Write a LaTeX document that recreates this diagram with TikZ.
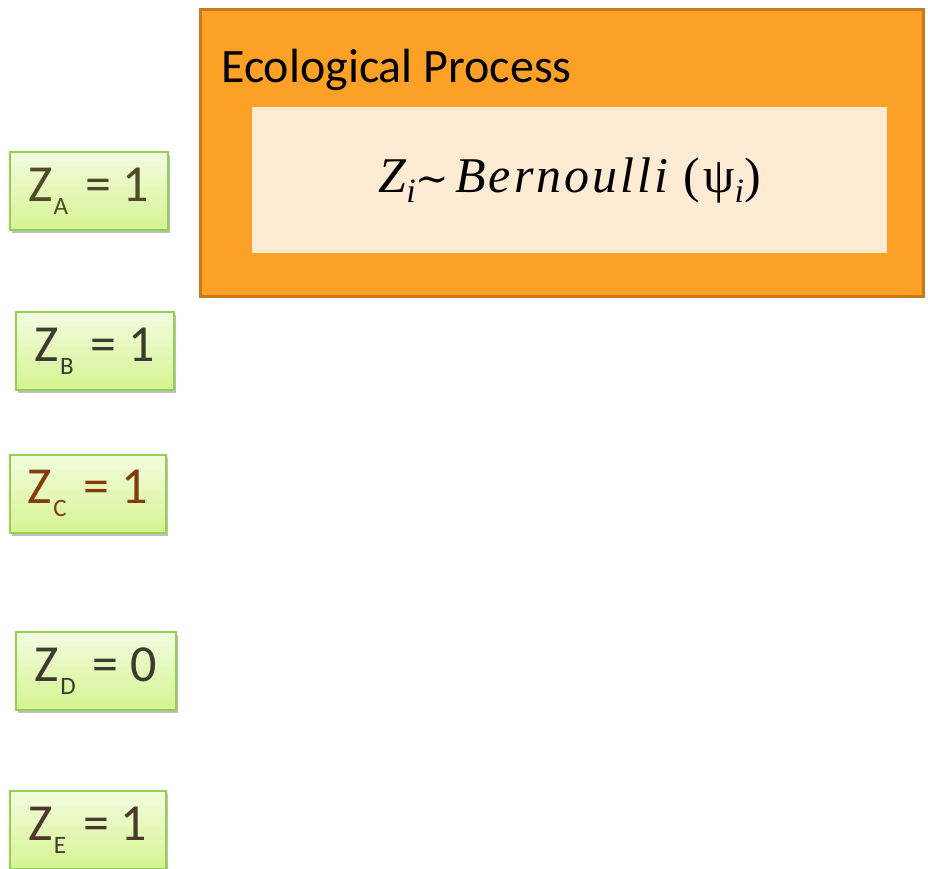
\documentclass[tikz,border=0pt]{standalone}
\usepackage{fontspec}
\setmainfont{Carlito}
\newfontfamily\eqfont[LetterSpace=6]{Liberation Serif}
\newfontfamily\symfont{DejaVu Serif}
\usepackage{xcolor}
\usetikzlibrary{positioning,shadows}

\definecolor{zborder}{HTML}{92D050}
\definecolor{ztop}{HTML}{F3FCE0}
\definecolor{zbottom}{HTML}{D5F491}
\definecolor{procfill}{HTML}{FCA125}
\definecolor{procdraw}{HTML}{C77B1E}
\definecolor{eqfill}{HTML}{FFEBD3}
\definecolor{zolive}{HTML}{4F4A2A}
\definecolor{zgrey}{HTML}{3D3A30}
\definecolor{zbrown}{HTML}{843C0C}
\definecolor{zdark}{HTML}{4A3A2C}

\newcommand{\zsub}[1]{\kern1pt\raisebox{-13pt}{\fontsize{25}{25}\selectfont #1}\hspace{17pt}}
\newcommand{\eqsub}[1]{\raisebox{-10pt}{\fontsize{34}{34}\selectfont #1}}

\tikzset{
  zbox/.style={draw=zborder, line width=1.6pt, top color=ztop, bottom color=zbottom,
    anchor=north west, minimum height=78, inner sep=0pt,
    drop shadow={shadow xshift=2pt, shadow yshift=-3pt, opacity=0.25, fill=black},
    font=\fontsize{52}{58}\selectfont},
}

\begin{document}
\begin{tikzpicture}[x=1pt,y=-1pt]
  \useasboundingbox (0,0) rectangle (928,868);
  % ecological process
  \node[draw=procdraw, line width=3pt, fill=procfill, anchor=north west,
    minimum width=723, minimum height=287, inner sep=0pt] (proc) at (199,8) {};
  \node[fill=eqfill, anchor=north west, minimum width=635, minimum height=146,
    inner sep=0pt] (eq) at (252,107) {};
  \node[anchor=base west, inner sep=0pt, font=\fontsize{48}{54}\selectfont] (title) at (221,82) {Ecological Process};
  \node[font=\fontsize{50}{56}\selectfont\eqfont] (model) at (eq.center)
    {\itshape Z\eqsub{i}{\symfont\upshape\fontsize{40}{40}\selectfont ∼}\hspace{6pt}Bernoulli \upshape(ψ\eqsub{\itshape i})};
  % latent states
  \node[zbox, minimum width=158, text=zolive]  (za) at (9,151)  {Z\zsub{A}= 1};
  \node[zbox, minimum width=158, text=zgrey]   (zb) at (15,311) {Z\zsub{B}= 1};
  \node[zbox, minimum width=156, text=zbrown]  (zc) at (9,454)  {Z\zsub{C}= 1};
  \node[zbox, minimum width=160, text=zgrey]   (zd) at (15,631) {Z\zsub{D}= 0};
  \node[zbox, minimum width=156, text=zdark]   (ze) at (9,790)  {Z\zsub{E}= 1};
\end{tikzpicture}
\end{document}
